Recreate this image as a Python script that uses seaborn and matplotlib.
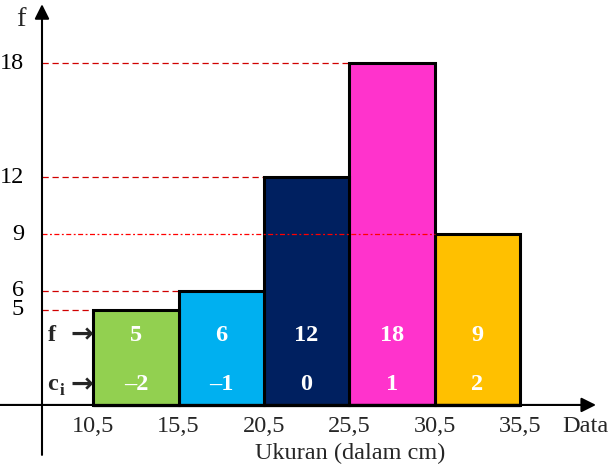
import matplotlib
matplotlib.use("Agg")
import matplotlib.pyplot as plt
import seaborn as sns
import pandas as pd

# ---- data ----
edges = [10.5, 15.5, 20.5, 25.5, 30.5, 35.5]
tick_labels = ["10,5", "15,5", "20,5", "25,5", "30,5", "35,5"]
freq = [5, 6, 12, 18, 9]
ci = ["\u20132", "\u20131", "0", "1", "2"]
colors = ["#92D050", "#00B0F0", "#002060", "#FF33CC", "#FFC000"]
y_ticks = [5, 6, 9, 12, 18]

sns.set_theme(style="white")
plt.rcParams["font.family"] = ["Liberation Serif", "DejaVu Serif"]

mids = [(edges[i] + edges[i + 1]) / 2 for i in range(len(freq))]
kelas = [f"k{i}" for i in range(len(freq))]
df = pd.DataFrame({"mid": mids, "freq": freq, "kelas": kelas})
palette = dict(zip(kelas, colors))

fig = plt.figure(figsize=(6.1, 4.68), dpi=100)
ax = fig.add_axes([0, 0, 1, 1])
ax.set_xlim(5.04, 40.77)
ax.set_ylim(-3.32, 21.32)
ax.axis("off")

sns.histplot(data=df, x="mid", weights="freq", bins=edges, hue="kelas",
             palette=palette, multiple="layer", alpha=1, edgecolor="black",
             linewidth=2.2, legend=False, ax=ax, zorder=2)

yaxis_x = 7.5
fs = 17.5

# dashed guide lines
for v in y_ticks:
    if v == 9:
        # red reference line up to the last bar with this height
        ax.plot([yaxis_x, edges[4]], [v, v], color="#FF0000", lw=0.9,
                linestyle=(0, (4, 2, 1.5, 2)), zorder=3)
    else:
        end = next(edges[i] for i, f in enumerate(freq) if f >= v)
        ax.plot([yaxis_x, end], [v, v], color="#D00000", lw=0.9,
                linestyle=(0, (5, 3)), zorder=1)
    ax.text(6.45, v, str(v), ha="right", va="center", fontsize=fs, color="black")

# axes with arrows
ax.annotate("", xy=(yaxis_x, 21.1), xytext=(yaxis_x, -2.63),
            arrowprops=dict(arrowstyle="-|>", lw=1.5, color="black",
                            mutation_scale=22, shrinkA=0, shrinkB=0), zorder=5)
ax.annotate("", xy=(39.95, 0), xytext=(5.0, 0),
            arrowprops=dict(arrowstyle="-|>", lw=1.5, color="black",
                            mutation_scale=22, shrinkA=0, shrinkB=0), zorder=5)

ax.text(6.27, 20.3, "f", ha="center", va="center", fontsize=fs + 3)
ax.text(39.32, -1.16, "Data", ha="center", va="center", fontsize=fs)
for e, lab in zip(edges, tick_labels):
    ax.text(e, -1.16, lab, ha="center", va="center", fontsize=fs)
ax.text(25.56, -2.55, "Ukuran (dalam cm)", ha="center", va="center", fontsize=fs)

# labels inside bars
for m, f, c in zip(mids, freq, ci):
    ax.text(m, 3.68, str(f), ha="center", va="center", fontsize=fs,
            fontweight="bold", color="white", zorder=4)
    ax.text(m, 1.05, c, ha="center", va="center", fontsize=fs,
            fontweight="bold", color="white", zorder=4)

# row markers
ax.text(8.1, 3.68, "f", ha="center", va="center", fontsize=fs, fontweight="bold")
ax.text(9.85, 3.68, "\u2192", ha="center", va="center", fontsize=fs + 2,
        fontweight="bold", family=["DejaVu Sans"])
ax.text(8.1, 1.05, "c", ha="center", va="center", fontsize=fs, fontweight="bold")
ax.text(8.65, 0.75, "i", ha="center", va="center", fontsize=fs - 5, fontweight="bold")
ax.text(9.85, 1.05, "\u2192", ha="center", va="center", fontsize=fs + 2,
        fontweight="bold", family=["DejaVu Sans"])

fig.savefig("out.png", dpi=100)
